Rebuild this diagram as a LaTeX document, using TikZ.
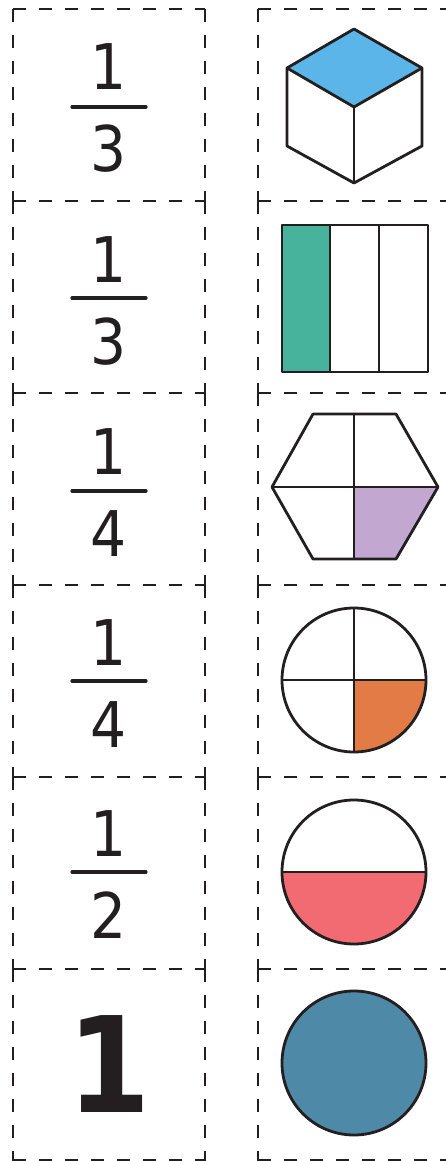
\documentclass[tikz,border=0pt]{standalone}
\usepackage{fontspec}
\setmainfont{DejaVu Sans Condensed}
\usetikzlibrary{positioning}
\definecolor{cink}{HTML}{231F20}
\definecolor{ccube}{HTML}{5BB5E8}
\definecolor{cgreen}{HTML}{47B39D}
\definecolor{cpurple}{HTML}{C2A8D0}
\definecolor{corange}{HTML}{E27B45}
\definecolor{cred}{HTML}{F26B73}
\definecolor{cblue}{HTML}{4F89A8}
\tikzset{
  every picture/.style={x=1pt, y=-1pt},
  cut/.style={draw=cink, line width=2.8pt, dash pattern=on 13pt off 13pt},
  outline/.style={draw=cink, line width=2.8pt, line join=round},
  digit/.style={font=\fontsize{63}{63}\selectfont, text=cink, inner sep=0pt, anchor=base},
  bigdigit/.style={font=\fontsize{133}{133}\selectfont\bfseries, text=cink, inner sep=0pt, anchor=base},
  bar/.style={draw=cink, line width=3.2pt, line cap=round},
}

\begin{document}
\begin{tikzpicture}
  \useasboundingbox (0,0) rectangle (445,1161);

  % cutting lines
  \foreach \k in {0,...,5} {
    \draw[cut] (13,9+192*\k) -- (205,9+192*\k);
    \draw[cut] (258,9+192*\k) -- (450,9+192*\k);
    \draw[cut] (13,9+192*\k) -- (13,201+192*\k);
    \draw[cut] (205,9+192*\k) -- (205,201+192*\k);
    \draw[cut] (258,9+192*\k) -- (258,201+192*\k);
  }
  \draw[cut] (13,1160) -- (205,1160);
  \draw[cut] (258,1160) -- (450,1160);

  % fractions
  \node[digit] (n1) at (109,90)  {1};
  \node[digit] (d1) at (109,172) {3};
  \draw[bar] (72,107) -- (146,107);

  \node[digit] (n2) at (109,282) {1};
  \node[digit] (d2) at (109,364) {3};
  \draw[bar] (72,298) -- (146,298);

  \node[digit] (n3) at (109,474) {1};
  \node[digit] (d3) at (109,556) {4};
  \draw[bar] (72,491) -- (146,491);

  \node[digit] (n4) at (109,665) {1};
  \node[digit] (d4) at (109,747) {4};
  \draw[bar] (72,681) -- (146,681);

  \node[digit] (n5) at (109,856) {1};
  \node[digit] (d5) at (109,938) {2};
  \draw[bar] (72,872) -- (146,872);

  \node[bigdigit] (whole) at (109,1112) {1};

  % cube
  \fill[ccube] (354,29) -- (422,68) -- (354,107) -- (287,68) -- cycle;
  \draw[outline] (354,29) -- (422,68) -- (422,146) -- (354,183) -- (287,146) -- (287,68) -- cycle;
  \draw[outline] (287,68) -- (354,107) -- (422,68);
  \draw[outline] (354,107) -- (354,183);

  % bar in thirds
  \fill[cgreen] (282,225) rectangle (330,372);
  \draw[outline] (282,225) rectangle (428,372);
  \draw[outline] (330,225) -- (330,372);
  \draw[outline] (379,225) -- (379,372);

  % hexagon in quarters
  \fill[cpurple] (354,487) -- (438,487) -- (396,559) -- (354,559) -- cycle;
  \draw[outline] (313,414) -- (396,414) -- (438,487) -- (396,559) -- (313,559) -- (272,487) -- cycle;
  \draw[outline] (354,414) -- (354,559);
  \draw[outline] (272,487) -- (438,487);

  % circle in quarters
  \fill[corange] (354,680) -- (426,680) arc[start angle=0, end angle=90, radius=72] -- cycle;
  \draw[outline] (354,680) circle[radius=72];
  \draw[outline] (354,608) -- (354,752);
  \draw[outline] (282,680) -- (426,680);

  % circle in halves
  \fill[cred] (282,872) arc[start angle=180, end angle=0, radius=72] -- cycle;
  \draw[outline] (354,872) circle[radius=72];
  \draw[outline] (282,872) -- (426,872);

  % whole circle
  \draw[outline, fill=cblue] (354,1063) circle[radius=72];
\end{tikzpicture}
\end{document}
